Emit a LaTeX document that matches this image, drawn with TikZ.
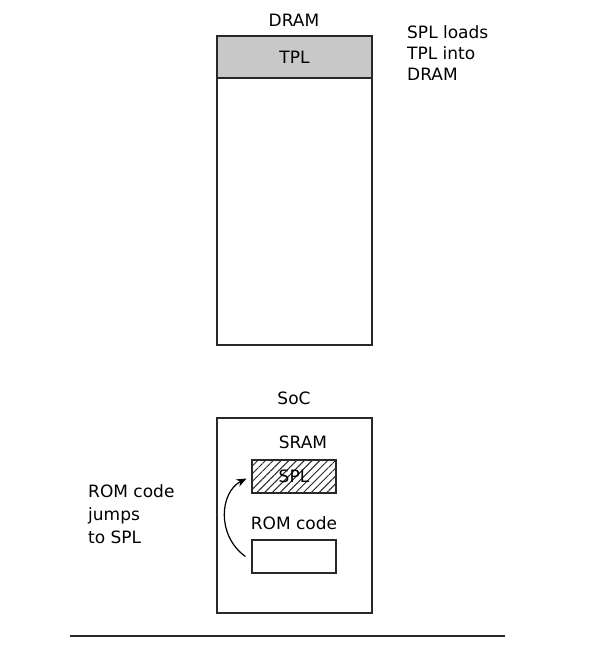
\documentclass[tikz,border=0pt]{standalone}
\usepackage{fontspec}
\setmainfont{DejaVu Sans}
\usetikzlibrary{arrows.meta,positioning,patterns.meta}
\definecolor{tplgray}{RGB}{200,200,200}
\definecolor{linegray}{RGB}{40,40,40}

\begin{document}
\begin{tikzpicture}[x=1pt,y=-1pt,
    font=\fontsize{17}{21}\selectfont,
    box/.style={draw=linegray, line width=1.3pt, inner sep=0pt},
    note/.style={align=left, inner sep=0pt, anchor=north west}]
  \useasboundingbox (0,0) rectangle (592,656);
  % DRAM with TPL on top
  \node[box, minimum width=155pt, minimum height=309pt] (dram) at (294.5,190.5) {};
  \node[box, fill=tplgray, minimum width=155pt, minimum height=42pt, anchor=north] (tpl) at (dram.north) {TPL};
  \node (dramlbl) at (294,20) {DRAM};
  \node[note] (loads) at (407,25) {SPL loads\\TPL into\\DRAM};
  % SoC with SRAM and ROM
  \node[box, minimum width=155pt, minimum height=195pt] (soc) at (294.5,515.5) {};
  \node (soclbl) at (294,398) {SoC};
  \node (sramlbl) at (303,442) {SRAM};
  \node[box, minimum width=84pt, minimum height=33pt,
        pattern={Lines[angle=45,distance=5.5pt,line width=1pt]}, pattern color=linegray] (spl) at (294,476.5) {};
  \node at (spl) {SPL};
  \node (romlbl) at (294,523) {ROM code};
  \node[box, minimum width=84pt, minimum height=33pt] (rom) at (294,556.5) {};
  \node[note, font=\fontsize{17}{23}\selectfont] (jumps) at (88,484) {ROM code\\jumps\\to SPL};
  \draw[line width=1.2pt, -{Stealth[length=10pt,width=8pt]}] ([xshift=-6pt]rom.west) .. controls (216,535) and (220,492) .. ([xshift=-5pt,yshift=-2pt]spl.west);
  % bottom rule
  \coordinate (ruleL) at (70,636);
  \coordinate (ruleR) at (505,636);
  \draw[line width=2.2pt, linegray] (ruleL) -- (ruleR);
\end{tikzpicture}
\end{document}
